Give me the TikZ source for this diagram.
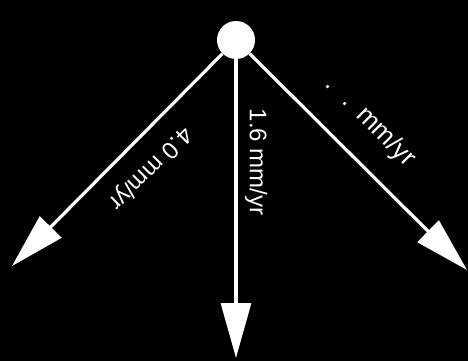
\documentclass[tikz,border=0pt]{standalone}
\usepackage{fontspec}
\setmainfont{Liberation Sans}
\usetikzlibrary{arrows.meta}
\begin{document}
\begin{tikzpicture}[x=1pt,y=-1pt,
  conn/.style={draw=white, line width=3.2pt, -{Triangle[length=55pt,width=30pt]}},
  lbl/.style={text=white, font=\fontsize{24}{24}\selectfont, inner sep=0pt}]
\fill[black] (0,0) rectangle (468,361);
\useasboundingbox (0,0) rectangle (468,361);
\node[circle, fill=white, minimum size=38pt, inner sep=0pt] (c) at (236,40) {};
\coordinate (l) at (12,266);
\coordinate (m) at (236,358);
\coordinate (r) at (467,270);
\draw[conn] (c) -- (l);
\draw[conn] (c) -- (m);
\draw[conn] (c) -- (r);
\node[lbl, rotate=225] (tl) at (150,168) {4.0 mm/yr};
\node[lbl, rotate=-90] (tm) at (256,162) {1.6 mm/yr};
\node[lbl, rotate=-45, font=\fontsize{26}{26}\selectfont] (tr) at (370,122) {.\hspace{17pt}.\hspace{12pt}mm/yr};
\end{tikzpicture}
\end{document}
